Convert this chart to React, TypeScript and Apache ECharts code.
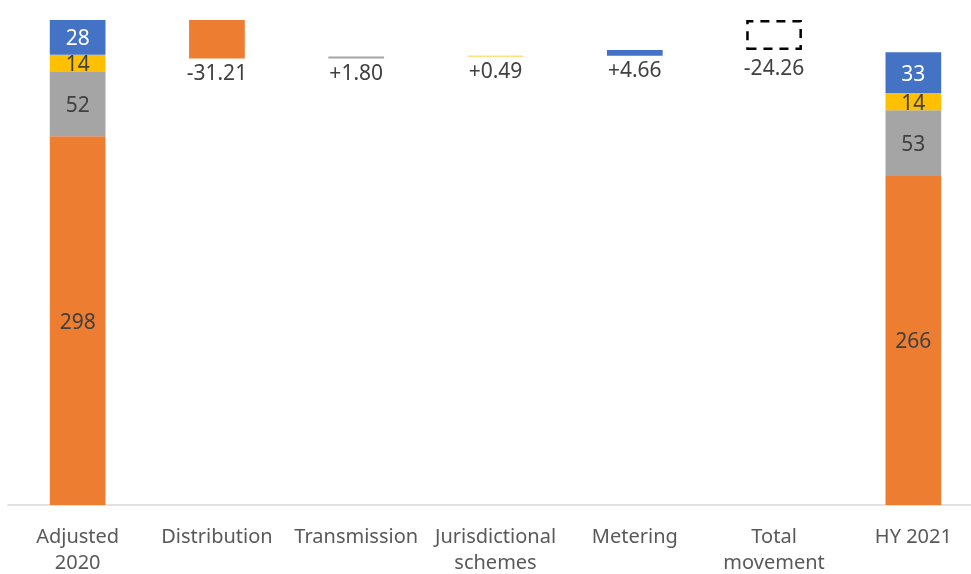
import React, { useEffect, useRef } from "react";
import * as echarts from "echarts";

const categories = ["Adjusted\n2020", "Distribution", "Transmission", "Jurisdictional\nschemes", "Metering", "Total\nmovement", "HY 2021"];
const startStack = { distribution: 298, transmission: 52, jurisdictional: 14, metering: 28 };
const endStack = { distribution: 266, transmission: 53, jurisdictional: 14, metering: 33 };
const movements = [-31.21, 1.8, 0.49, 4.66];
const totalMovement = -24.26;

const COLORS = { distribution: "#ED7D31", transmission: "#A5A5A5", jurisdictional: "#FFC000", metering: "#4472C4" };
const FONT = "Noto Sans";

export default function App() {
  const ref = useRef<HTMLDivElement>(null);
  useEffect(() => {
    if (!ref.current) return;
    const chart = echarts.init(ref.current, null, { renderer: "svg" });
    const startTotal = startStack.distribution + startStack.transmission + startStack.jurisdictional + startStack.metering;
    const bases: number[] = [];
    const heights: number[] = [];
    let level = startTotal;
    movements.forEach((m) => {
      const next = level + m;
      bases.push(Math.min(level, next));
      heights.push(Math.abs(m));
      level = next;
    });
    const totalBase = Math.min(startTotal, startTotal + totalMovement);
    const baseData = [0, ...bases, totalBase, 0];
    const keys = ["distribution", "transmission", "jurisdictional", "metering"] as const;
    const fmt = (v: number) => (v > 0 ? "+" : "") + v.toFixed(2);

    const stackSeries = keys.map((k, i) => {
      const data: any[] = categories.map(() => null);
      data[0] = { value: (startStack as any)[k], label: { show: true, position: "inside", formatter: String((startStack as any)[k]) } };
      data[6] = { value: (endStack as any)[k], label: { show: true, position: "inside", formatter: String((endStack as any)[k]) } };
      data[i + 1] = {
        value: heights[i],
        label: { show: true, position: "bottom", distance: 3, color: "#404040", formatter: fmt(movements[i]) },
      };
      return {
        name: k,
        type: "bar",
        stack: "w",
        barWidth: "40%",
        itemStyle: { color: COLORS[k] },
        label: {
          show: false,
          fontFamily: FONT,
          fontSize: 21,
          color: k === "metering" ? "#ffffff" : "#404040",
        },
        data,
      };
    });

    const totalData: any[] = categories.map(() => null);
    totalData[5] = {
      value: Math.abs(totalMovement),
      label: { show: true, position: "bottom", distance: 6, formatter: fmt(totalMovement) },
    };

    chart.setOption({
      animation: false,
      grid: { left: 8, top: 20, width: 975, bottom: 69, containLabel: false, outerBoundsMode: "none" },
      xAxis: {
        type: "category",
        data: categories,
        axisLine: { show: true, lineStyle: { color: "#D9D9D9", width: 1.5 } },
        axisTick: { show: false },
        axisLabel: { fontFamily: FONT, fontSize: 20, color: "#595959", margin: 17, lineHeight: 26, interval: 0 },
      },
      yAxis: { type: "value", min: 0, max: startTotal, show: false, splitLine: { show: false } },
      series: [
        {
          name: "base",
          type: "bar",
          stack: "w",
          barWidth: "40%",
          itemStyle: { color: "transparent" },
          silent: true,
          data: baseData,
        },
        ...stackSeries,
        {
          name: "total",
          type: "bar",
          stack: "w",
          barWidth: "40%",
          itemStyle: { color: "transparent", borderColor: "#000000", borderWidth: 2.5, borderType: [9, 7] },
          label: { fontFamily: FONT, fontSize: 21, color: "#404040" },
          data: totalData,
        },
      ],
    });
    return () => chart.dispose();
  }, []);
  return <div ref={ref} style={{ position: "fixed", left: 0, top: 0, width: 971, height: 574 }} />;
}
